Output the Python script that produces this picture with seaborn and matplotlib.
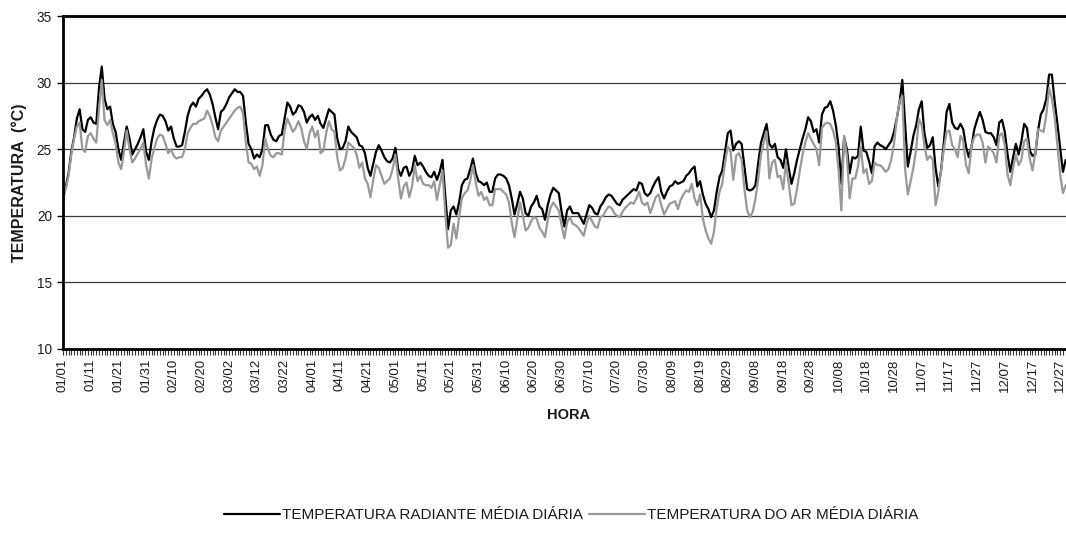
import numpy as np
import pandas as pd
import matplotlib
matplotlib.use("Agg")
import matplotlib.pyplot as plt
from matplotlib.ticker import MultipleLocator
import seaborn as sns

# Daily mean temperatures (°C), day 0 = 01/01
radiante = [
    21.3, 22.2, 23.2, 24.8, 25.9, 27.3, 28.0, 26.5, 26.3, 27.2,
    27.4, 27.0, 26.9, 29.6, 31.2, 28.8, 28.0, 28.2, 26.9, 26.3,
    25.0, 24.2, 25.5, 26.7, 25.8, 24.6, 25.0, 25.4, 25.9, 26.5,
    24.8, 24.2, 25.6, 26.6, 27.2, 27.6, 27.5, 27.1, 26.4, 26.7,
    25.8, 25.2, 25.2, 25.3, 26.3, 27.5, 28.2, 28.5, 28.2, 28.8,
    29.0, 29.3, 29.5, 29.1, 28.4, 27.4, 26.5, 27.8, 28.0, 28.4,
    28.9, 29.2, 29.5, 29.3, 29.3, 29.0, 27.0, 25.4, 25.0, 24.3,
    24.6, 24.4, 25.0, 26.8, 26.8, 26.1, 25.7, 25.6, 26.0, 26.1,
    27.3, 28.5, 28.2, 27.6, 27.8, 28.3, 28.2, 27.8, 27.0, 27.4,
    27.6, 27.2, 27.5, 26.9, 26.6, 27.3, 28.0, 27.8, 27.6, 25.8,
    25.0, 25.1, 25.6, 26.7, 26.3, 26.1, 25.9, 25.3, 25.2, 24.7,
    23.6, 23.0, 23.9, 24.8, 25.3, 24.9, 24.4, 24.1, 24.0, 24.3,
    25.1, 23.5, 23.0, 23.6, 23.7, 23.0, 23.4, 24.5, 23.8, 24.0,
    23.7, 23.3, 23.0, 22.9, 23.3, 22.7, 23.3, 24.2, 21.5, 19.0,
    20.4, 20.7, 20.1, 21.0, 22.3, 22.7, 22.8, 23.5, 24.3, 23.2,
    22.6, 22.5, 22.3, 22.5, 21.8, 21.8, 22.8, 23.1, 23.1, 23.0,
    22.8, 22.3, 21.3, 20.1, 20.9, 21.8, 21.3, 20.2, 20.0, 20.7,
    21.0, 21.5, 20.7, 20.5, 19.7, 20.8, 21.6, 22.1, 21.9, 21.7,
    20.3, 19.2, 20.4, 20.7, 20.2, 20.2, 20.2, 19.8, 19.4, 20.1,
    20.8, 20.6, 20.2, 20.1, 20.7, 21.0, 21.4, 21.6, 21.5, 21.2,
    20.9, 20.8, 21.2, 21.4, 21.6, 21.8, 22.0, 21.9, 22.5, 22.4,
    21.7, 21.5, 21.7, 22.2, 22.6, 22.9, 21.8, 21.3, 21.8, 22.2,
    22.3, 22.6, 22.4, 22.5, 22.6, 23.0, 23.2, 23.5, 23.7, 22.2,
    22.6, 21.6, 20.9, 20.5, 19.9, 20.4, 21.8, 22.9, 23.4, 24.8,
    26.2, 26.4, 24.9, 25.4, 25.6, 25.4, 23.7, 22.0, 21.9, 22.0,
    22.3, 24.0, 25.5, 26.2, 26.9, 25.4, 25.1, 25.4, 24.4, 24.2,
    23.6, 25.0, 23.6, 22.4, 23.2, 24.2, 25.0, 25.8, 26.5, 27.4,
    27.1, 26.3, 26.5, 25.5, 27.6, 28.1, 28.2, 28.6, 27.9, 26.8,
    25.2, 22.4, 25.9, 25.0, 23.2, 24.4, 24.3, 24.5, 26.7, 24.9,
    24.8, 24.1, 23.2, 25.2, 25.5, 25.3, 25.2, 25.0, 25.3, 25.6,
    26.3, 27.3, 28.5, 30.2, 27.0, 23.7, 24.8, 26.0, 26.8, 28.0,
    28.6, 26.2, 25.1, 25.3, 25.9, 23.6, 22.2, 23.4, 25.5, 27.8,
    28.4, 27.0, 26.6, 26.5, 26.9, 26.5, 25.2, 24.4, 25.2, 26.5,
    27.2, 27.8, 27.2, 26.3, 26.2, 26.2, 25.9, 25.3, 27.0, 27.2,
    26.3, 24.6, 23.3, 24.4, 25.4, 24.6, 25.6, 26.9, 26.6, 24.9,
    24.5, 24.6, 26.4, 27.6, 28.0, 28.8, 30.6, 30.6, 28.6, 26.9,
    25.1, 23.3, 24.2,
]

ar = [
    21.2, 22.0, 23.0, 24.6, 25.8, 26.7, 27.0, 25.0, 24.8, 26.0,
    26.2, 25.8, 25.5, 28.0, 30.2, 27.2, 26.8, 27.2, 26.2, 25.4,
    24.0, 23.5, 24.8, 26.4, 25.0, 24.0, 24.3, 24.7, 25.0, 25.5,
    23.8, 22.8, 24.3, 25.1, 25.8, 26.1, 26.0, 25.4, 24.7, 25.0,
    24.5, 24.3, 24.4, 24.4, 25.0, 26.2, 26.6, 26.9, 26.9, 27.1,
    27.2, 27.3, 27.9, 27.5, 26.8, 25.9, 25.6, 26.4, 26.7, 27.0,
    27.3, 27.6, 27.9, 28.1, 28.2, 27.7, 25.5, 24.0, 23.9, 23.5,
    23.7, 23.0, 23.8, 25.8, 25.0, 24.5, 24.4, 24.7, 24.7, 24.6,
    26.4, 27.3, 26.8, 26.3, 26.6, 27.1, 26.6, 25.6, 25.0, 26.2,
    26.7, 25.9, 26.4, 24.7, 24.9, 26.2, 27.1, 26.5, 26.3, 24.4,
    23.4, 23.6, 24.3, 25.5, 25.3, 25.1, 24.6, 23.6, 24.0, 22.8,
    22.4, 21.4, 22.7, 23.8, 23.6, 23.0, 22.4, 22.6, 22.8, 23.5,
    24.6, 22.8, 21.3, 22.2, 22.5, 21.4, 22.2, 23.8, 22.6, 23.0,
    22.4, 22.3, 22.3, 22.1, 22.6, 21.2, 22.3, 23.4, 20.2, 17.6,
    17.8, 19.4, 18.3, 19.9, 21.3, 21.7, 21.9, 22.6, 23.8, 22.5,
    21.5, 21.8, 21.2, 21.4, 20.8, 20.8, 22.0, 22.0, 22.0, 21.8,
    21.6, 21.0, 19.5, 18.4, 19.7, 21.0, 20.0, 18.9, 19.1, 19.6,
    19.9, 19.8, 19.1, 18.8, 18.4, 19.7, 20.6, 21.0, 20.7, 20.4,
    19.3, 18.3, 19.5, 19.9, 19.4, 19.3, 19.1, 18.8, 18.5, 19.4,
    20.0, 19.6, 19.2, 19.1, 19.9, 20.0, 20.4, 20.7, 20.6, 20.2,
    20.0, 19.9, 20.3, 20.6, 20.8, 21.0, 20.9, 21.3, 21.8, 21.0,
    20.8, 21.0, 20.2, 20.8, 21.4, 21.6, 20.8, 20.1, 20.5, 20.9,
    21.0, 21.1, 20.5, 21.2, 21.6, 21.9, 21.8, 22.4, 21.3, 20.8,
    21.6, 19.8, 18.9, 18.3, 17.9, 18.8, 20.6, 21.8, 22.4, 24.0,
    25.2, 24.8, 22.7, 24.5, 24.7, 24.2, 22.0, 20.4, 19.9, 20.3,
    21.3, 22.8, 24.6, 25.5, 26.3, 22.8, 24.0, 24.2, 22.9, 23.0,
    22.0, 24.0, 22.4, 20.8, 20.9, 22.0, 23.4, 24.6, 25.5, 26.2,
    25.8, 25.4, 25.0, 23.8, 26.6, 26.9, 27.0, 26.9, 26.4, 25.5,
    23.4, 20.4, 26.0, 24.5, 21.3, 22.8, 22.8, 23.7, 25.2, 23.2,
    23.5, 22.4, 22.6, 24.0, 23.8, 23.8, 23.6, 23.3, 23.5, 24.2,
    25.4, 27.3, 28.6, 29.0, 23.5, 21.6, 22.6, 23.6, 25.0, 27.3,
    26.8, 25.2, 24.2, 24.5, 24.2, 20.8, 21.8, 23.4, 25.0, 26.3,
    26.4, 25.3, 25.0, 24.4, 26.0, 25.6, 23.8, 23.2, 25.3, 25.9,
    26.1, 26.1, 25.5, 24.0, 25.2, 25.0, 24.7, 24.0, 26.0, 26.2,
    25.3, 23.1, 22.3, 23.6, 24.6, 23.8, 24.2, 25.6, 25.8, 24.3,
    23.4, 24.7, 26.5, 26.4, 26.3, 27.6, 29.6, 28.8, 27.4, 25.3,
    23.1, 21.7, 22.3,
]

rotulos_data = [
    "01/01", "01/11", "01/21", "01/31", "02/10", "02/20", "03/02", "03/12",
    "03/22", "04/01", "04/11", "04/21", "05/01", "05/11", "05/21", "05/31",
    "06/10", "06/20", "06/30", "07/10", "07/20", "07/30", "08/09", "08/19",
    "08/29", "09/08", "09/18", "09/28", "10/08", "10/18", "10/28", "11/07",
    "11/17", "11/27", "12/07", "12/17", "12/27",
]

nome_radiante = "TEMPERATURA RADIANTE MÉDIA DIÁRIA"
nome_ar = "TEMPERATURA DO AR MÉDIA DIÁRIA"

df = pd.DataFrame({
    "dia": np.arange(len(radiante)),
    nome_radiante: radiante,
    nome_ar: ar,
})
longo = df.melt(id_vars="dia", var_name="serie", value_name="temp")

sns.set_theme(style="white")
plt.rcParams["font.family"] = ["Liberation Sans", "DejaVu Sans"]

W, H = 1066, 543
fig = plt.figure(figsize=(W / 100, H / 100), dpi=100)
ax = fig.add_axes([63 / W, 1 - 349 / H, 1 - 63 / W, (349 - 16) / H])

sns.lineplot(
    data=longo, x="dia", y="temp", hue="serie",
    hue_order=[nome_radiante, nome_ar],
    palette={nome_radiante: "#000000", nome_ar: "#999999"},
    linewidth=1.6, ax=ax, legend=False,
)

ax.set_xlim(0, 362.1)
ax.set_ylim(10, 35)
ax.yaxis.set_major_locator(MultipleLocator(5))
ax.set_yticklabels([f"{v:g}" for v in ax.get_yticks()], fontsize=9.8, color="#1a1a1a")

ax.set_xticks(np.arange(0, len(rotulos_data) * 10, 10))
ax.set_xticklabels(rotulos_data, rotation=90, fontsize=9.5, color="#1a1a1a")
ax.xaxis.set_minor_locator(MultipleLocator(1))

ax.tick_params(axis="y", which="major", direction="out", length=4, width=1,
               color="black", left=True, pad=4)
ax.tick_params(axis="x", which="both", direction="out", length=4, width=0.8,
               color="#333333", bottom=True, pad=3)

ax.yaxis.grid(True, color="#3a3a3a", linewidth=0.9)
ax.xaxis.grid(False)
ax.set_axisbelow(True)

for lado in ("left", "bottom", "top"):
    ax.spines[lado].set_visible(True)
    ax.spines[lado].set_color("black")
    ax.spines[lado].set_linewidth(2)
ax.spines["right"].set_visible(False)

ax.set_xlabel("HORA", fontsize=10.5, fontweight="bold", color="#1a1a1a")
ax.set_ylabel("TEMPERATURA  (°C)", fontsize=11.5, fontweight="bold", color="#1a1a1a")
ax.xaxis.set_label_coords((569 - 63) / (W - 63), -(408 - 349) / (349 - 16))
ax.yaxis.set_label_coords(-(63 - 27) / (W - 63), 0.5)

linhas = ax.get_lines()[:2]
fig.legend(
    linhas, [nome_radiante, nome_ar],
    loc="center", bbox_to_anchor=(571 / W, 1 - 515 / H), ncol=2,
    frameon=False, fontsize=11, handlelength=3.7, handletextpad=0.1,
    columnspacing=0.4, labelcolor="#1a1a1a",
)

fig.savefig("out.png", dpi=100)
